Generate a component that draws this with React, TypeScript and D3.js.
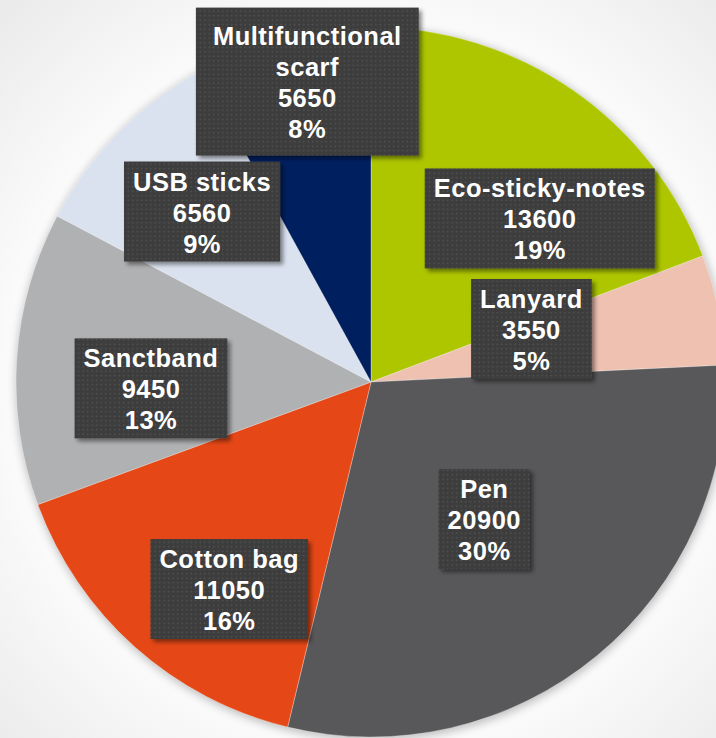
import React, { useEffect, useRef } from "react";
import * as d3 from "d3";

// ---- data ----
const categories = [
  "Eco-sticky-notes",
  "Lanyard",
  "Pen",
  "Cotton bag",
  "Sanctband",
  "USB sticks",
  "Multifunctional scarf",
];
const values = [13600, 3550, 20900, 11050, 9450, 6560, 5650];
const labelLines = [
  ["Eco-sticky-notes"],
  ["Lanyard"],
  ["Pen"],
  ["Cotton bag"],
  ["Sanctband"],
  ["USB sticks"],
  ["Multifunctional", "scarf"],
];

// ---- styling / layout ----
const colors = ["#adc600", "#efc1b1", "#58585a", "#e54816", "#b0b1b3", "#dbe2ef", "#001f5f"];
// label placement: angle offset (deg) from slice middle, radius fraction, extra padding
const labelLayout = [
  { dA: 11.3, f: 0.662, ex: 0, ey: 0 },
  { dA: -6.5, f: 0.476, ex: 0, ey: 0 },
  { dA: 0, f: 0.501, ex: 0, ey: 0 },
  { dA: -7.3, f: 0.707, ex: 0, ey: 0 },
  { dA: -5.5, f: 0.62, ex: 0, ey: 0 },
  { dA: 0.7, f: 0.676, ex: 0, ey: 0 },
  { dA: 2.4, f: 0.865, ex: 8, ey: 8.5 },
];

const W = 716;
const H = 738;
const CX = 371;
const CY = 382;
const R = 355;
const LINE = 31;
const FONT = "'Liberation Sans', Arial, sans-serif";

export default function App() {
  const ref = useRef<SVGSVGElement | null>(null);

  useEffect(() => {
    const svg = d3.select(ref.current);
    svg.selectAll("*").remove();

    const defs = svg.append("defs");
    const bg = defs
      .append("radialGradient")
      .attr("id", "bg")
      .attr("gradientUnits", "userSpaceOnUse")
      .attr("cx", CX)
      .attr("cy", CY)
      .attr("r", 540);
    bg.append("stop").attr("offset", 0).attr("stop-color", "#ffffff");
    bg.append("stop").attr("offset", 0.66).attr("stop-color", "#fbfbfb");
    bg.append("stop").attr("offset", 1).attr("stop-color", "#e9e9e9");

    const blur = defs.append("filter").attr("id", "pieShadow").attr("x", "-10%").attr("y", "-10%").attr("width", "120%").attr("height", "120%");
    blur.append("feGaussianBlur").attr("stdDeviation", 5);

    const ds = defs.append("filter").attr("id", "boxShadow").attr("x", "-20%").attr("y", "-20%").attr("width", "150%").attr("height", "150%");
    ds.append("feDropShadow")
      .attr("dx", 3)
      .attr("dy", 3)
      .attr("stdDeviation", 2)
      .attr("flood-color", "#000")
      .attr("flood-opacity", 0.45);

    const pat = defs
      .append("pattern")
      .attr("id", "dots")
      .attr("patternUnits", "userSpaceOnUse")
      .attr("width", 4.5)
      .attr("height", 4.5);
    pat.append("rect").attr("width", 4.5).attr("height", 4.5).attr("fill", "#3c3c3c");
    pat.append("rect").attr("x", 1.5).attr("y", 1.5).attr("width", 1.5).attr("height", 1.5).attr("fill", "#565656");

    svg.append("rect").attr("width", W).attr("height", H).attr("fill", "url(#bg)");

    // shadow under pie
    svg
      .append("circle")
      .attr("cx", CX + 1)
      .attr("cy", CY + 2)
      .attr("r", R + 1)
      .attr("fill", "#000")
      .attr("opacity", 0.25)
      .attr("filter", "url(#pieShadow)");

    const pie = d3
      .pie<number>()
      .sort(null)
      .value((d) => d);
    const arcs = pie(values);
    const arc = d3.arc<d3.PieArcDatum<number>>().innerRadius(0).outerRadius(R);

    const g = svg.append("g").attr("transform", `translate(${CX},${CY})`);
    g.selectAll("path.slice")
      .data(arcs)
      .join("path")
      .attr("class", "slice")
      .attr("d", arc as any)
      .attr("fill", (_d, i) => colors[i])
      .attr("stroke", "#ffffff")
      .attr("stroke-opacity", 0.5)
      .attr("stroke-width", 0.6);

    const total = d3.sum(values);

    const labels = svg.append("g");
    arcs.forEach((a, i) => {
      const lay = labelLayout[i];
      const mid = (a.startAngle + a.endAngle) / 2 + (lay.dA * Math.PI) / 180;
      const dist = R * lay.f;
      const lx = CX + Math.sin(mid) * dist;
      const ly = CY - Math.cos(mid) * dist;
      const lines = [
        ...labelLines[i],
        String(values[i]),
        Math.round((values[i] / total) * 100) + "%",
      ];
      const n = lines.length;
      const lg = labels.append("g").attr("aria-label", categories[i]);
      const rect = lg.append("rect").attr("fill", "url(#dots)").attr("filter", "url(#boxShadow)");
      const txt = lg
        .append("text")
        .attr("text-anchor", "middle")
        .attr("font-family", FONT)
        .attr("font-weight", "bold")
        .attr("font-size", 25.5)
        .attr("letter-spacing", "0.5px")
        .attr("fill", "#ffffff");
      lines.forEach((s, k) => {
        txt
          .append("tspan")
          .attr("x", lx)
          .attr("y", ly + (k - (n - 1) / 2) * LINE + 10)
          .text(s);
      });
      let maxW = 0;
      txt.selectAll<SVGTSpanElement, unknown>("tspan").each(function () {
        maxW = Math.max(maxW, this.getComputedTextLength());
      });
      const bw = maxW + 18 + 2 * lay.ex;
      const bh = n * LINE + 7 + 2 * lay.ey;
      rect
        .attr("x", lx - bw / 2)
        .attr("y", ly - bh / 2)
        .attr("width", bw)
        .attr("height", bh);
    });
  }, []);

  return (
    <svg
      ref={ref}
      width={W}
      height={H}
      style={{ position: "absolute", left: 0, top: 0, display: "block" }}
    />
  );
}
